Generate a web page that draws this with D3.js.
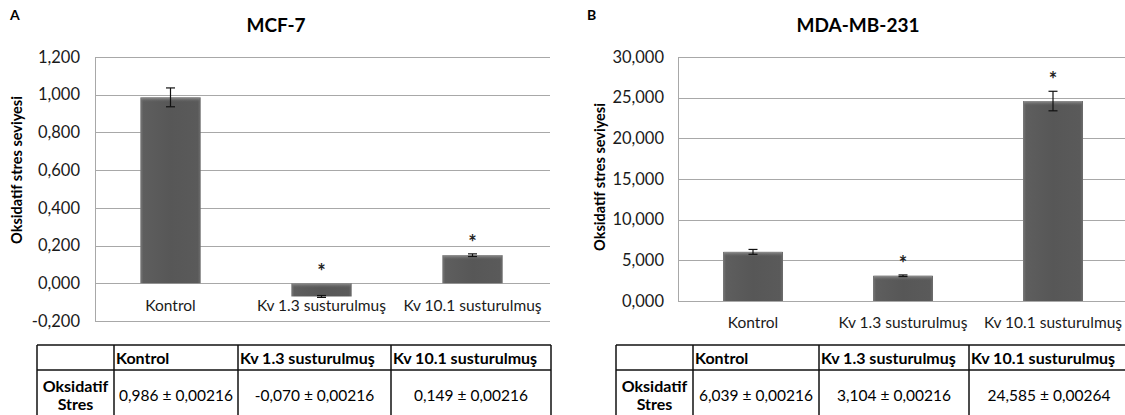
<!DOCTYPE html>
<html>
<head>
<meta charset="utf-8">
<script src="https://cdn.jsdelivr.net/npm/d3@7"></script>
<style>
  body { margin: 0; background: #fff; }
  svg { display: block; font-family: Lato, "Open Sans", sans-serif; }
</style>
</head>
<body>
<svg id="chart" width="1125" height="415"></svg>
<script>
// Oxidative stress levels in two breast cancer cell lines (panel A: MCF-7, panel B: MDA-MB-231)

const categories = ['Kontrol', 'Kv 1.3 susturulmuş', 'Kv 10.1 susturulmuş'];

const mcfValues = [0.986, -0.070, 0.149];
const mcfErrors = [0.05, 0.005, 0.007];
const mcfSignif = [false, true, true];
const mcfTicks = [-0.2, 0, 0.2, 0.4, 0.6, 0.8, 1.0, 1.2];
const mcfTable = ['0,986 ± 0,00216', '-0,070 ± 0,00216', '0,149 ± 0,00216'];

const mdaValues = [6.039, 3.104, 24.585];
const mdaErrors = [0.3, 0.1, 1.2];
const mdaSignif = [false, true, true];
const mdaTicks = [0, 5, 10, 15, 20, 25, 30];
const mdaTable = ['6,039 ± 0,00216', '3,104 ± 0,00216', '24,585 ± 0,00264'];

const rowLabel = ['Oksidatif', 'Stres'];
const yTitle = 'Oksidatif stres seviyesi';

// Turkish number style: comma as decimal separator
const trLocale = d3.formatLocale({ decimal: ',', thousands: '.', grouping: [3], currency: ['', ''], minus: '-' });
const fmt = trLocale.format('.3f');

const svg = d3.select('#chart');
const defs = svg.append('defs');

// bevel-ish shading for the bars (lighter rims, dark body)
const grad = defs.append('linearGradient').attr('id', 'barGrad').attr('x1', 0).attr('x2', 1).attr('y1', 0).attr('y2', 0);
grad.append('stop').attr('offset', '0%').attr('stop-color', '#7a7a7a');
grad.append('stop').attr('offset', '5%').attr('stop-color', '#5e5e5e');
grad.append('stop').attr('offset', '50%').attr('stop-color', '#575757');
grad.append('stop').attr('offset', '95%').attr('stop-color', '#5a5a5a');
grad.append('stop').attr('offset', '100%').attr('stop-color', '#6e6e6e');

const topGrad = defs.append('linearGradient').attr('id', 'topGrad').attr('x1', 0).attr('x2', 0).attr('y1', 0).attr('y2', 1);
topGrad.append('stop').attr('offset', '0%').attr('stop-color', '#9a9a9a').attr('stop-opacity', 0.9);
topGrad.append('stop').attr('offset', '100%').attr('stop-color', '#5e5e5e').attr('stop-opacity', 0);

const panels = [
  {
    letter: 'A', letterX: 10, title: 'MCF-7', titleX: 276,
    values: mcfValues, errors: mcfErrors, signif: mcfSignif, ticks: mcfTicks, table: mcfTable,
    domain: [-0.2, 1.2], left: 95, right: 548, top: 57, bottom: 321, gridRight: 550,
    tickRight: 80, yTitleX: 22, yTitleY: 170, labelY: 310.5,
    tableX: [37, 114, 238, 391, 551], lastValX: 471
  },
  {
    letter: 'B', letterX: 587, title: 'MDA-MB-231', titleX: 858,
    values: mdaValues, errors: mdaErrors, signif: mdaSignif, ticks: mdaTicks, table: mdaTable,
    domain: [0, 30], left: 678, right: 1128, top: 57, bottom: 301, gridRight: 1125,
    tickRight: 664, yTitleX: 605, yTitleY: 177, labelY: 327.5,
    tableX: [616, 693, 819, 969, 1140], lastValX: 1049
  }
];

panels.forEach(drawPanel);

function drawPanel(p) {
  const g = svg.append('g');

  const x = d3.scaleBand()
    .domain(categories)
    .range([p.left, p.right])
    .paddingInner(0.6)
    .paddingOuter(0.3);

  const y = d3.scaleLinear()
    .domain(p.domain)
    .range([p.bottom, p.top]);

  // panel letter and title
  g.append('text')
    .attr('x', p.letterX).attr('y', 20)
    .attr('font-size', 14).attr('font-weight', 'bold')
    .text(p.letter);

  g.append('text')
    .attr('x', p.titleX).attr('y', 32)
    .attr('text-anchor', 'middle')
    .attr('font-size', 19).attr('font-weight', 'bold')
    .text(p.title);

  // gridlines
  g.selectAll('line.grid')
    .data(p.ticks)
    .enter().append('line')
    .attr('class', 'grid')
    .attr('x1', p.left).attr('x2', p.gridRight)
    .attr('y1', d => Math.round(y(d)) + 0.5)
    .attr('y2', d => Math.round(y(d)) + 0.5)
    .attr('stroke', '#a8a8a8').attr('stroke-width', 1);

  // left axis line
  g.append('line')
    .attr('x1', p.left + 0.5).attr('x2', p.left + 0.5)
    .attr('y1', y(p.domain[1])).attr('y2', y(p.domain[0]))
    .attr('stroke', '#a8a8a8');

  // tick labels
  const yAxis = d3.axisLeft(y).tickValues(p.ticks).tickFormat(fmt).tickSize(0).tickPadding(0);
  const axisG = g.append('g')
    .attr('transform', `translate(${p.tickRight},0)`)
    .call(yAxis);
  axisG.select('.domain').remove();
  axisG.selectAll('text')
    .attr('font-family', 'Lato, sans-serif')
    .attr('font-size', 16.5)
    .attr('fill', '#1a1a1a');

  // y-axis title
  g.append('text')
    .attr('transform', `translate(${p.yTitleX},${p.yTitleY}) rotate(-90)`)
    .attr('text-anchor', 'middle')
    .attr('font-size', 14.5).attr('font-weight', 'bold')
    .text(yTitle);

  // bars
  const rows = categories.map((c, i) => ({ c, v: p.values[i], e: p.errors[i], s: p.signif[i], t: p.table[i] }));

  g.selectAll('rect.bar')
    .data(rows)
    .enter().append('rect')
    .attr('class', 'bar')
    .attr('x', d => x(d.c))
    .attr('width', x.bandwidth())
    .attr('y', d => y(Math.max(0, d.v)))
    .attr('height', d => Math.abs(y(d.v) - y(0)))
    .attr('fill', 'url(#barGrad)');

  // soft top bevel
  g.selectAll('rect.hl')
    .data(rows)
    .enter().append('rect')
    .attr('class', 'hl')
    .attr('x', d => x(d.c) + 1)
    .attr('width', x.bandwidth() - 2)
    .attr('y', d => y(Math.max(0, d.v)))
    .attr('height', d => Math.min(5, Math.abs(y(d.v) - y(0))))
    .attr('fill', 'url(#topGrad)');

  // error bars
  const cx = d => x(d.c) + x.bandwidth() / 2;
  const eb = g.selectAll('g.err').data(rows).enter().append('g').attr('class', 'err')
    .attr('stroke', '#111').attr('stroke-width', 1.2);
  eb.append('line')
    .attr('x1', cx).attr('x2', cx)
    .attr('y1', d => y(d.v + d.e)).attr('y2', d => y(d.v - d.e));
  eb.append('line')
    .attr('x1', d => cx(d) - 4.5).attr('x2', d => cx(d) + 4.5)
    .attr('y1', d => y(d.v + d.e)).attr('y2', d => y(d.v + d.e));
  eb.append('line')
    .attr('x1', d => cx(d) - 4.5).attr('x2', d => cx(d) + 4.5)
    .attr('y1', d => y(d.v - d.e)).attr('y2', d => y(d.v - d.e));

  // significance markers
  g.selectAll('text.star')
    .data(rows.filter(d => d.s))
    .enter().append('text')
    .attr('class', 'star')
    .attr('x', cx)
    .attr('y', d => y(Math.max(0, d.v + d.e)) - 4)
    .attr('text-anchor', 'middle')
    .attr('font-size', 20).attr('font-weight', 'bold')
    .attr('fill', '#222')
    .text('*');

  // category labels
  g.selectAll('text.cat')
    .data(rows)
    .enter().append('text')
    .attr('class', 'cat')
    .attr('x', cx)
    .attr('y', p.labelY)
    .attr('text-anchor', 'middle')
    .attr('font-size', 15.5)
    .attr('fill', '#1a1a1a')
    .text(d => d.c);

  // data table under the chart
  const tx = p.tableX;
  const tTop = 345, tMid = 370, tBot = 418;
  const tg = g.append('g');
  [tTop, tMid].forEach(yy => {
    tg.append('line').attr('x1', tx[0]).attr('x2', tx[tx.length - 1])
      .attr('y1', yy).attr('y2', yy).attr('stroke', '#111').attr('stroke-width', 1.5);
  });
  tx.forEach(xx => {
    tg.append('line').attr('x1', xx).attr('x2', xx)
      .attr('y1', tTop).attr('y2', tBot).attr('stroke', '#111').attr('stroke-width', 1.5);
  });

  tg.selectAll('text.hdr')
    .data(rows)
    .enter().append('text')
    .attr('class', 'hdr')
    .attr('x', (d, i) => tx[i + 1] + 2)
    .attr('y', 363.5)
    .attr('font-size', 16).attr('font-weight', 'bold')
    .text(d => d.c);

  tg.selectAll('text.val')
    .data(rows)
    .enter().append('text')
    .attr('class', 'val')
    .attr('x', (d, i) => i === 2 ? p.lastValX : (tx[i + 1] + tx[i + 2]) / 2)
    .attr('y', 400.5)
    .attr('text-anchor', 'middle')
    .attr('font-size', 15.5)
    .text(d => d.t);

  tg.selectAll('text.rowlab')
    .data(rowLabel)
    .enter().append('text')
    .attr('class', 'rowlab')
    .attr('x', (tx[0] + tx[1]) / 2)
    .attr('y', (d, i) => 392 + i * 18)
    .attr('text-anchor', 'middle')
    .attr('font-size', 16).attr('font-weight', 'bold')
    .text(d => d);
}
</script>
</body>
</html>
